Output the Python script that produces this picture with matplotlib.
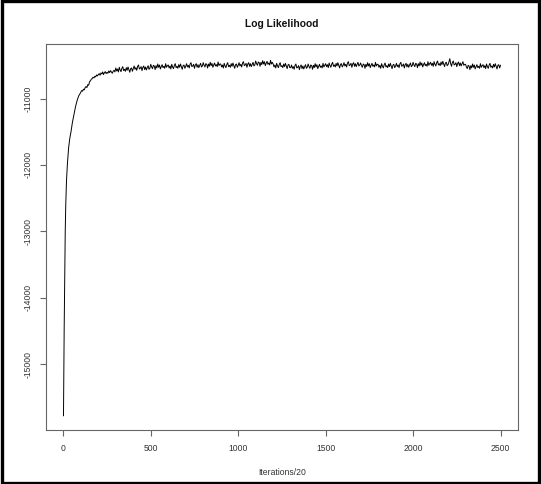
import matplotlib
matplotlib.use("Agg")
import matplotlib.pyplot as plt
from matplotlib.patches import Rectangle

plt.rcParams['font.family'] = ['Liberation Sans', 'DejaVu Sans']

# ---- data ----
early_iter = [1, 3, 5, 7, 9, 11, 14, 18, 23, 30, 37, 44, 52, 60, 70, 80, 88, 95,
              100, 105, 110, 115, 120, 125, 130, 135, 140, 145, 150, 155, 160, 165,
              170, 175, 180, 185, 190, 195]
early_ll = [-15777, -15000, -14450, -14000, -13500, -13000, -12600, -12250, -12000,
            -11750, -11600, -11500, -11360, -11250, -11120, -11020, -10960, -10930,
            -10905, -10880, -10890, -10860, -10870, -10835, -10820, -10835, -10790,
            -10800, -10745, -10735, -10710, -10700, -10680, -10690, -10665, -10675,
            -10645, -10660]

plateau_iter = list(range(200, 2505, 5))
plateau_ll = [
    -10640, -10625, -10650, -10615, -10630, -10600, -10640, -10610, -10595, -10625,
    -10605, -10620, -10585, -10610, -10580, -10600, -10620, -10590, -10575, -10600,
    -10540, -10585, -10555, -10600, -10530, -10570, -10595, -10545, -10520, -10580,
    -10560, -10590, -10535, -10575, -10525, -10565, -10605, -10550, -10540, -10590,
    -10550, -10510, -10560, -10535, -10575, -10515, -10495, -10555, -10545, -10520,
    -10580, -10530, -10510, -10565, -10525, -10570, -10535, -10505, -10560, -10545,
    -10485, -10525, -10550, -10500, -10510, -10565, -10505, -10540, -10480, -10530,
    -10495, -10555, -10520, -10490, -10535, -10515, -10545, -10475, -10530, -10505,
    -10495, -10540, -10510, -10555, -10485, -10525, -10550, -10500, -10475, -10535,
    -10515, -10545, -10490, -10530, -10480, -10520, -10560, -10505, -10495, -10545,
    -10515, -10475, -10525, -10500, -10540, -10480, -10460, -10520, -10510, -10485,
    -10545, -10495, -10475, -10530, -10490, -10535, -10500, -10470, -10525, -10510,
    -10460, -10500, -10525, -10475, -10485, -10540, -10480, -10515, -10455, -10505,
    -10470, -10530, -10495, -10465, -10510, -10490, -10520, -10450, -10505, -10480,
    -10480, -10525, -10495, -10540, -10470, -10510, -10535, -10485, -10460, -10520,
    -10500, -10530, -10475, -10515, -10465, -10505, -10545, -10490, -10480, -10530,
    -10500, -10460, -10510, -10485, -10525, -10465, -10445, -10505, -10495, -10470,
    -10530, -10480, -10460, -10515, -10475, -10520, -10485, -10455, -10510, -10495,
    -10435, -10475, -10500, -10450, -10460, -10515, -10455, -10490, -10430, -10480,
    -10445, -10505, -10470, -10440, -10485, -10465, -10495, -10425, -10480, -10455,
    -10480, -10525, -10495, -10540, -10470, -10510, -10535, -10485, -10460, -10520,
    -10505, -10535, -10480, -10520, -10470, -10510, -10550, -10495, -10485, -10535,
    -10535, -10495, -10545, -10520, -10560, -10500, -10480, -10540, -10530, -10505,
    -10565, -10515, -10495, -10550, -10510, -10555, -10520, -10490, -10545, -10530,
    -10480, -10520, -10545, -10495, -10505, -10560, -10500, -10535, -10475, -10525,
    -10490, -10550, -10515, -10485, -10530, -10510, -10540, -10470, -10525, -10500,
    -10475, -10520, -10490, -10535, -10465, -10505, -10530, -10480, -10455, -10515,
    -10495, -10525, -10470, -10510, -10460, -10500, -10540, -10485, -10475, -10525,
    -10500, -10460, -10510, -10485, -10525, -10465, -10445, -10505, -10495, -10470,
    -10530, -10480, -10460, -10515, -10475, -10520, -10485, -10455, -10510, -10495,
    -10465, -10505, -10530, -10480, -10490, -10545, -10485, -10520, -10460, -10510,
    -10475, -10535, -10500, -10470, -10515, -10495, -10525, -10455, -10510, -10485,
    -10485, -10530, -10500, -10545, -10475, -10515, -10540, -10490, -10465, -10525,
    -10505, -10535, -10480, -10520, -10470, -10510, -10550, -10495, -10485, -10535,
    -10510, -10470, -10520, -10495, -10535, -10475, -10455, -10515, -10505, -10480,
    -10540, -10490, -10470, -10525, -10485, -10530, -10495, -10465, -10520, -10505,
    -10455, -10495, -10520, -10470, -10480, -10535, -10475, -10510, -10450, -10500,
    -10465, -10525, -10490, -10460, -10505, -10485, -10515, -10445, -10500, -10475,
    -10455, -10500, -10470, -10515, -10445, -10485, -10510, -10460, -10435, -10495,
    -10475, -10505, -10450, -10490, -10440, -10480, -10520, -10465, -10455, -10505,
    -10490, -10450, -10400, -10475, -10515, -10455, -10435, -10495, -10485, -10460,
    -10520, -10470, -10450, -10505, -10465, -10510, -10475, -10445, -10500, -10485,
    -10485, -10525, -10550, -10500, -10510, -10565, -10505, -10540, -10480, -10530,
    -10495, -10555, -10520, -10490, -10535, -10515, -10545, -10475, -10530, -10505,
    -10490, -10535, -10505, -10550, -10480, -10520, -10545, -10495, -10470, -10530,
    -10510, -10540, -10485, -10525, -10475, -10515, -10555, -10500, -10490, -10540,
    -10500,
]

x_ticks = [0, 500, 1000, 1500, 2000, 2500]
y_ticks = [-15000, -14000, -13000, -12000, -11000]

iters = early_iter + plateau_iter
ll = early_ll + plateau_ll

# ---- figure ----
fig = plt.figure(figsize=(5.41, 4.84), dpi=100)
ax = fig.add_axes([46 / 541, 1 - 430 / 484, (518 - 46) / 541, (430 - 44) / 484])

ax.plot(iters, ll, color='black', linewidth=0.7)

ax.set_xlim(-99, 2600)
ax.set_ylim(-15992, -10179)

ax.set_xticks(x_ticks)
ax.set_xticklabels([str(t) for t in x_ticks])
ax.set_yticks(y_ticks)
ax.set_yticklabels([str(t) for t in y_ticks], rotation=90, va='center')

for s in ax.spines.values():
    s.set_color('#666666')
    s.set_linewidth(0.8)

ax.tick_params(axis='both', direction='out', length=4, width=0.8, color='#666666',
               labelsize=6.2, labelcolor='#333333', pad=6)

ax.set_xlabel('Iterations/20', fontsize=6.2, color='#333333', labelpad=11)
fig.text(282 / 541, 1 - 24 / 484, 'Log Likelihood', ha='center', va='center',
         fontsize=7.4, fontweight='bold', color='#111111')

# black frame around whole figure
fig.patches.append(Rectangle((0.003, 0.003), 0.994, 0.994, transform=fig.transFigure,
                             fill=False, edgecolor='black', linewidth=2.4))

fig.savefig('out.png', dpi=100)
